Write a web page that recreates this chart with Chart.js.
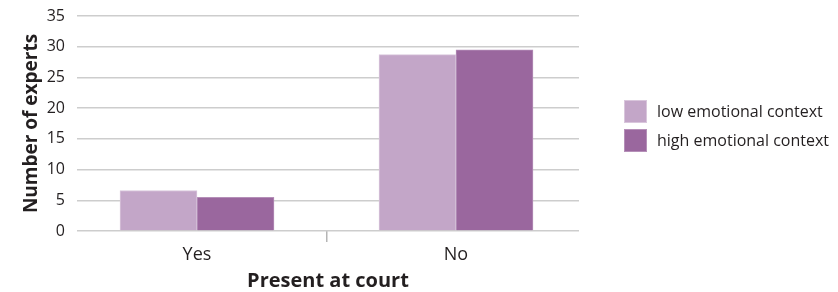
<!DOCTYPE html>
<html>
<head>
<meta charset="utf-8">
<script src="https://cdn.jsdelivr.net/npm/chart.js@4"></script>
<style>
  html, body { margin: 0; padding: 0; background: #ffffff; }
  #wrap { width: 838px; height: 292px; position: relative; }
</style>
</head>
<body>
<div id="wrap"><canvas id="c" width="838" height="292"></canvas></div>
<script>
// ---- data ----
const categories = ['Yes', 'No'];
const seriesNames = ['low emotional context', 'high emotional context'];
const lowValues = [6.6, 28.7];
const highValues = [5.5, 29.5];
const yTicks = [0, 5, 10, 15, 20, 25, 30, 35];
const xTitle = 'Present at court';
const yTitle = 'Number of experts';

// ---- styles ----
const colors = ['#c3a6c8', '#9a679e'];
const borders = ['#d9c6dc', '#b58fb8'];
const gridColor = '#cdcdcd';
const FONT = "'Open Sans', 'Noto Sans', sans-serif";
const X_MIN = -0.4633, X_MAX = 1.4749;

const toPoints = vals => vals.map((v, i) => ({ x: i, y: v }));

const legendPlugin = {
  id: 'sideLegend',
  afterDraw(chart) {
    const ctx = chart.ctx;
    const x0 = 624, y0 = 100, box = 23, pitch = 29;
    ctx.save();
    ctx.font = '16px ' + FONT;
    ctx.textBaseline = 'middle';
    ctx.textAlign = 'left';
    chart.data.datasets.forEach((ds, i) => {
      const y = y0 + i * pitch;
      ctx.fillStyle = ds.backgroundColor;
      ctx.fillRect(x0, y, box, box);
      ctx.strokeStyle = ds.borderColor;
      ctx.lineWidth = 1;
      ctx.strokeRect(x0 + 0.5, y + 0.5, box - 1, box - 1);
      ctx.fillStyle = '#231f20';
      ctx.fillText(ds.label, x0 + 33, y + box / 2 + 0.5);
    });
    ctx.restore();
  }
};

new Chart(document.getElementById('c'), {
  type: 'bar',
  data: {
    datasets: [
      { label: seriesNames[0], data: toPoints(lowValues), backgroundColor: colors[0], borderColor: borders[0], borderWidth: 1 },
      { label: seriesNames[1], data: toPoints(highValues), backgroundColor: colors[1], borderColor: borders[1], borderWidth: 1 }
    ]
  },
  options: {
    responsive: false,
    animation: false,
    devicePixelRatio: 1,
    barThickness: 77,
    layout: { padding: { top: 16, right: 259, bottom: 0, left: 0 } },
    plugins: { legend: { display: false }, tooltip: { enabled: false } },
    scales: {
      x: {
        type: 'linear',
        offset: false,
        bounds: 'data',
        min: X_MIN,
        max: X_MAX,
        afterDataLimits(scale) { scale.min = X_MIN; scale.max = X_MAX; },
        afterBuildTicks(scale) { scale.ticks = [{ value: 0 }, { value: 0.5 }, { value: 1 }]; },
        afterFit(scale) { scale.height = 61; scale.paddingLeft = 0; scale.paddingRight = 0; },
        border: { display: false },
        grid: {
          offset: false,
          drawOnChartArea: false,
          drawTicks: true,
          tickLength: 11,
          lineWidth: 1.5,
          color: c => (c.tick && Math.abs(c.tick.value - 0.5) < 1e-6) ? '#b5b5b5' : 'rgba(0,0,0,0)'
        },
        ticks: {
          autoSkip: false,
          maxRotation: 0,
          padding: 2,
          color: '#231f20',
          font: { family: FONT, size: 18 },
          callback: v => (Math.abs(v - Math.round(v)) < 1e-6 && categories[Math.round(v)] !== undefined ? categories[Math.round(v)] : '')
        },
        title: {
          display: true,
          text: xTitle,
          color: '#231f20',
          font: { family: FONT, size: 20, weight: 'bold' },
          padding: { top: 0, bottom: -1 }
        }
      },
      y: {
        min: 0,
        max: 35,
        afterFit(scale) { scale.width = 77; scale.paddingTop = 0; scale.paddingBottom = 0; },
        afterBuildTicks(scale) { scale.ticks = yTicks.map(v => ({ value: v })); },
        border: { display: false },
        grid: { color: gridColor, lineWidth: 1.5, drawTicks: false },
        ticks: {
          padding: 12,
          color: '#231f20',
          font: { family: FONT, size: 16 }
        },
        title: {
          display: true,
          text: yTitle,
          color: '#231f20',
          font: { family: FONT, size: 19, weight: 'bold' },
          padding: { top: 20, bottom: 0 }
        }
      }
    }
  },
  plugins: [legendPlugin]
});
</script>
</body>
</html>
